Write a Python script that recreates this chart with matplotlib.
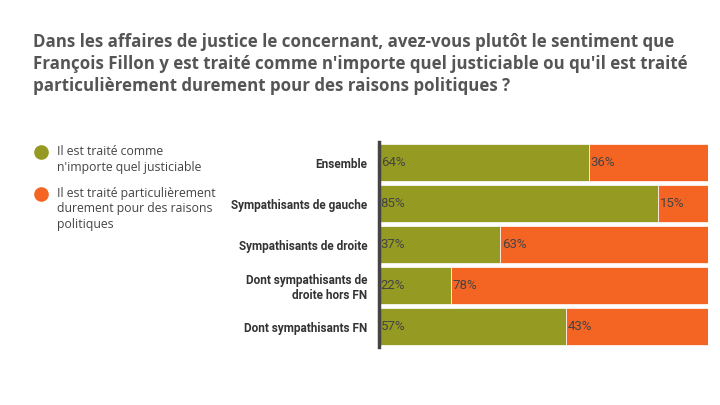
import matplotlib.pyplot as plt
from matplotlib.lines import Line2D

categories = [
    "Ensemble",
    "Sympathisants de gauche",
    "Sympathisants de droite",
    "Dont sympathisants de\ndroite hors FN",
    "Dont sympathisants FN",
]
comme_tous = [64, 85, 37, 22, 57]
durement = [36, 15, 63, 78, 43]
series_labels = [
    "Il est traité comme\nn'importe quel justiciable",
    "Il est traité particulièrement\ndurement pour des raisons\npolitiques",
]
title = ("Dans les affaires de justice le concernant, avez-vous plutôt le sentiment que\n"
         "François Fillon y est traité comme n'importe quel justiciable ou qu'il est traité\n"
         "particulièrement durement pour des raisons politiques ?")

green = "#959a22"
orange = "#f46524"

plt.rcParams["font.family"] = ["Roboto", "DejaVu Sans"]

fig = plt.figure(figsize=(7.2, 4.05), dpi=100)
ax = fig.add_axes([0.526, 0.143, 0.457, 0.506])

ypos = range(len(categories))
ax.barh(ypos, comme_tous, height=0.9, color=green, edgecolor="white", linewidth=0.5)
ax.barh(ypos, durement, left=comme_tous, height=0.9, color=orange,
        edgecolor="white", linewidth=0.5)

for y, a, b in zip(ypos, comme_tous, durement):
    ax.text(0.6, y, f"{a}%", va="center", ha="left", fontsize=9.5, color="#444444")
    ax.text(a + 0.4, y, f"{b}%", va="center", ha="left", fontsize=9.5, color="#444444")

ax.set_xlim(0, 100)
ax.set_ylim(len(categories) - 0.5, -0.5)
ax.set_yticks(list(ypos))
ax.set_yticklabels(categories, fontsize=8.5, fontweight="bold", color="#333333")
ax.set_xticks([])
ax.tick_params(axis="y", length=0, pad=8)
for s in ["top", "right", "bottom"]:
    ax.spines[s].set_visible(False)
ax.spines["left"].set_linewidth(2.5)
ax.spines["left"].set_color("#444444")

fig.text(0.046, 1 - 33 / 405, title, fontsize=12.2, fontweight="bold", color="#555555",
         va="top", ha="left", linespacing=1.3, family=["Open Sans", "DejaVu Sans"])

# legend: circle aligned with first line of each entry
legend_y = [1 - 152 / 405, 1 - 194 / 405]
for lab, col, ly in zip(series_labels, [green, orange], legend_y):
    fig.add_artist(Line2D([41 / 720], [ly], transform=fig.transFigure, marker="o",
                          linestyle="", markersize=9.5, color=col))
    fig.text(57 / 720, ly + 7 / 405, lab, fontsize=8.8, color="#444444",
             va="top", ha="left", linespacing=1.25, family=["Open Sans", "DejaVu Sans"])

fig.savefig("out.png", dpi=100, facecolor="white")
